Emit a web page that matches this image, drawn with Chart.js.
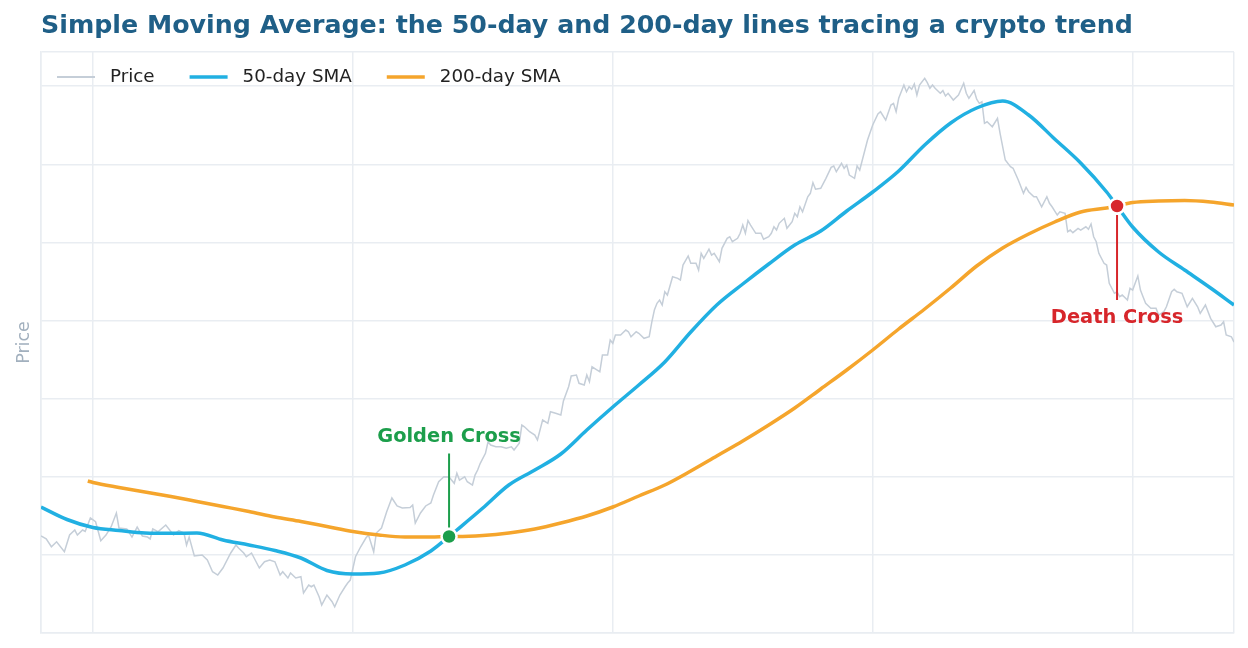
<!DOCTYPE html>
<html>
<head>
<meta charset="utf-8">
<script src="https://cdn.jsdelivr.net/npm/chart.js@4.4.1/dist/chart.umd.min.js"></script>
<style>
html,body{margin:0;padding:0;background:#ffffff;}
#wrap{width:1248px;height:648px;position:relative;}
</style>
</head>
<body>
<div id="wrap"><canvas id="c" width="1248" height="648"></canvas></div>
<script>
// ---------- data ----------
const chartTitle = 'Simple Moving Average: the 50-day and 200-day lines tracing a crypto trend';
const yAxisTitle = 'Price';
const seriesLabels = ['Price', '50-day SMA', '200-day SMA'];
const xGridDays = [0, 20, 120, 220, 320, 420, 459];
const yGridValues = [20000, 25000, 30000, 35000, 40000, 45000, 50000, 55000, 57184];

const priceDays = [0,2,4,6,9,11,13,14,16,17,19,21,23,25,27,29,30,33,35,37,39,41,42,43,45,48,51,53,55,56,57,59,62,64,66,68,70,73,75,76,78,79,81,82,84,86,88,90,92,93,95,96,98,100,101,103,104,105,107,108,110,112,113,115,117,118,119,121,123,125,126,128,129,131,133,135,137,139,142,143,144,146,148,150,151,153,155,157,159,160,161,163,164,166,167,168,169,171,172,173,175,177,179,181,182,184,185,186,188,190,191,193,195,196,198,200,201,203,204,206,207,209,210,211,212,214,215,216,218,219,220,221,223,225,226,227,229,230,232,234,235,236,237,238,239,240,241,243,245,246,247,249,250,252,253,254,255,257,258,259,261,262,264,265,266,268,269,270,271,272,273,275,277,278,280,281,282,283,284,286,287,289,290,291,292,293,295,296,297,298,300,302,304,305,306,308,309,310,311,313,314,315,316,318,320,322,323,325,327,328,329,330,332,333,334,335,336,337,338,340,341,342,343,344,346,347,348,349,351,353,355,356,357,359,360,361,362,363,364,366,368,369,371,373,374,376,378,379,380,382,383,385,387,388,389,391,392,394,395,396,397,399,400,402,403,404,405,406,407,409,410,411,413,414,415,416,418,419,420,422,423,424,425,427,429,430,432,433,435,436,437,439,441,443,445,446,448,450,452,454,455,456,458,459];
const priceValues = [26210,26020,25520,25840,25200,26270,26590,26270,26590,26500,27360,27120,25910,26270,26800,27680,26720,26660,26140,26780,26210,26140,26020,26660,26480,26910,26270,26550,26400,25630,26140,24930,24990,24670,23920,23710,24160,25120,25630,25440,25120,24880,25120,24800,24160,24560,24670,24560,23710,23920,23520,23840,23520,23600,22560,23070,22960,23070,22320,21790,22430,22000,21680,22430,22960,23200,23390,24880,25520,26080,26270,25200,26400,26720,27760,28640,28130,28000,28030,28190,27040,27680,28130,28320,28830,29680,30000,29980,29580,30220,29790,30000,29680,29470,30110,30430,30860,31500,32240,32030,31920,31920,31820,31920,31710,32140,33310,33200,32880,32670,32350,33630,33420,34160,34060,33950,34850,35760,36450,36510,35980,35870,36510,36080,37040,36830,36720,37790,37790,38750,38540,39070,39070,39390,39280,38960,39280,39180,38860,38960,39900,40670,41100,41310,40990,41840,41630,42800,42700,42590,43550,44130,43660,43660,43230,44300,43980,44560,44190,44300,43760,44620,45260,45360,45040,45260,45580,46110,45580,46390,46110,45580,45580,45200,45360,45580,46000,45790,46220,46540,45900,46320,46860,46640,47280,46960,47920,48140,48820,48400,48460,49100,49800,49890,49520,50060,49740,49950,49310,49100,49890,49630,50270,51550,52510,53220,53360,52830,53790,53900,53360,54220,55070,54640,54960,54800,55140,54430,55070,55500,55220,54860,55070,54860,54540,54710,54370,54540,54110,54430,55180,54540,54220,54720,54160,53900,54000,52620,52720,52400,52940,51980,50270,49840,49740,48990,48140,48520,48240,47920,47920,47280,47920,47500,47280,46750,46960,46860,45680,45790,45620,45900,45790,46000,45840,46180,45360,45040,44300,43660,43550,42380,41740,41840,41520,41630,41310,42060,41950,42850,41950,41520,41100,40780,40780,40350,40560,40880,41840,42000,41840,41740,40880,41420,40880,40460,40990,40140,39600,39710,39920,39070,38960,38620];

const sma50Days = [0,10,20,30,40,50,60,70,80,90,100,110,120,130,140,150,157,160,170,180,190,200,210,220,230,240,250,260,270,280,290,300,310,320,330,340,350,360,370,380,390,400,410,414,420,430,440,450,459];
const sma50Values = [28064,27264,26752,26560,26400,26380,26400,25952,25632,25280,24800,24000,23776,23840,24352,25248,26176,26592,28000,29470,30432,31456,32992,34464,35872,37344,39264,40992,42336,43616,44832,45728,47008,48224,49568,51232,52640,53600,54048,53152,51616,50080,48224,47328,45984,44384,43232,42080,40992];

const sma200Days = [18,20,30,40,50,60,70,80,90,100,110,120,130,140,150,157,160,170,180,190,200,210,220,230,240,250,260,270,280,290,300,310,320,330,340,350,360,370,380,390,400,410,414,420,430,440,450,459];
const sma200Values = [29728,29632,29312,29024,28736,28416,28096,27776,27424,27136,26816,26496,26272,26144,26144,26176,26176,26240,26400,26656,27040,27488,28064,28768,29472,30368,31328,32288,33312,34400,35616,36832,38112,39456,40736,42080,43488,44640,45536,46304,46944,47200,47328,47552,47648,47680,47584,47392];

const crossLabels = ['Golden Cross', 'Death Cross'];
const crossDays = [157, 414];
const crossValues = [26176, 47328];

// ---------- styles ----------
const FONT = '"DejaVu Sans", "Noto Sans", sans-serif';
const GRID = '#e9edf2';
const C_PRICE = '#c5ced8';
const C_SMA50 = '#21b0e2';
const C_SMA200 = '#f5a52c';
const C_GOLD = '#1c9e4b';
const C_DEATH = '#d7262b';

const toXY = (xs, ys) => xs.map((d, i) => ({x: d, y: ys[i]}));

const overlay = {
  id: 'overlay',
  afterDatasetsDraw(chart) {
    const {ctx, scales: {x, y}} = chart;
    ctx.save();
    crossDays.forEach((d, i) => {
      const px = x.getPixelForValue(d);
      const py = y.getPixelForValue(crossValues[i]);
      const col = i === 0 ? C_GOLD : C_DEATH;
      const dir = i === 0 ? -1 : 1;
      ctx.strokeStyle = col;
      ctx.lineWidth = 2;
      ctx.beginPath();
      ctx.moveTo(px, py + dir * 9);
      ctx.lineTo(px, py + dir * (i === 0 ? 83 : 94));
      ctx.stroke();
      ctx.fillStyle = col;
      ctx.font = 'bold 19.4px ' + FONT;
      ctx.textAlign = 'center';
      ctx.textBaseline = 'middle';
      ctx.fillText(crossLabels[i], px, py + dir * (i === 0 ? 100 : 112));
    });
    ctx.restore();
  },
  afterDraw(chart) {
    const {ctx} = chart;
    ctx.save();
    ctx.fillStyle = '#1f5f87';
    ctx.font = 'bold 25.3px ' + FONT;
    ctx.textAlign = 'left';
    ctx.textBaseline = 'middle';
    ctx.fillText(chartTitle, 41, 26);
    let lx = 57;
    const ly = 77;
    ctx.font = '18.3px ' + FONT;
    chart.data.datasets.slice(0, 3).forEach(ds => {
      ctx.strokeStyle = ds.borderColor;
      ctx.lineWidth = ds.label === 'Price' ? 2 : 3.5;
      ctx.beginPath();
      ctx.moveTo(lx, ly);
      ctx.lineTo(lx + 38, ly);
      ctx.stroke();
      ctx.fillStyle = '#222222';
      ctx.textAlign = 'left';
      ctx.fillText(ds.label, lx + 53, ly);
      lx += 53 + ctx.measureText(ds.label).width + 35;
    });
    ctx.restore();
  }
};

new Chart(document.getElementById('c'), {
  type: 'line',
  data: {
    datasets: [
      {label: seriesLabels[0], data: toXY(priceDays, priceValues), borderColor: C_PRICE, borderWidth: 1.5, pointRadius: 0, tension: 0, order: 3},
      {label: seriesLabels[1], data: toXY(sma50Days, sma50Values), borderColor: C_SMA50, borderWidth: 3.5, pointRadius: 0, cubicInterpolationMode: 'monotone', order: 1},
      {label: seriesLabels[2], data: toXY(sma200Days, sma200Values), borderColor: C_SMA200, borderWidth: 3.5, pointRadius: 0, cubicInterpolationMode: 'monotone', order: 2},
      {label: 'Crosses', data: toXY(crossDays, crossValues), showLine: false, pointRadius: 7.5, pointHoverRadius: 7.5,
       pointBackgroundColor: [C_GOLD, C_DEATH], pointBorderColor: '#ffffff', pointBorderWidth: 2.5, order: 0}
    ]
  },
  options: {
    responsive: false,
    animation: false,
    devicePixelRatio: 1,
    layout: {padding: {left: 8, right: 14, top: 52, bottom: 15}},
    plugins: {legend: {display: false}, title: {display: false}, tooltip: {enabled: false}},
    scales: {
      x: {
        type: 'linear', min: 0, max: 459,
        ticks: {display: false},
        grid: {color: GRID, drawTicks: false, lineWidth: 1.5},
        border: {color: GRID, width: 1.5},
        afterBuildTicks: s => { s.ticks = xGridDays.map(v => ({value: v})); }
      },
      y: {
        type: 'linear', min: 20000, max: 57184,
        ticks: {display: false},
        grid: {color: GRID, drawTicks: false, lineWidth: 1.5},
        border: {color: GRID, width: 1.5},
        afterBuildTicks: s => { s.ticks = yGridValues.map(v => ({value: v})); },
        title: {display: true, text: yAxisTitle, color: '#a2b0be', font: {family: FONT, size: 17.5}, padding: {top: 6, bottom: 6}}
      }
    }
  },
  plugins: [overlay]
});
</script>
</body>
</html>
